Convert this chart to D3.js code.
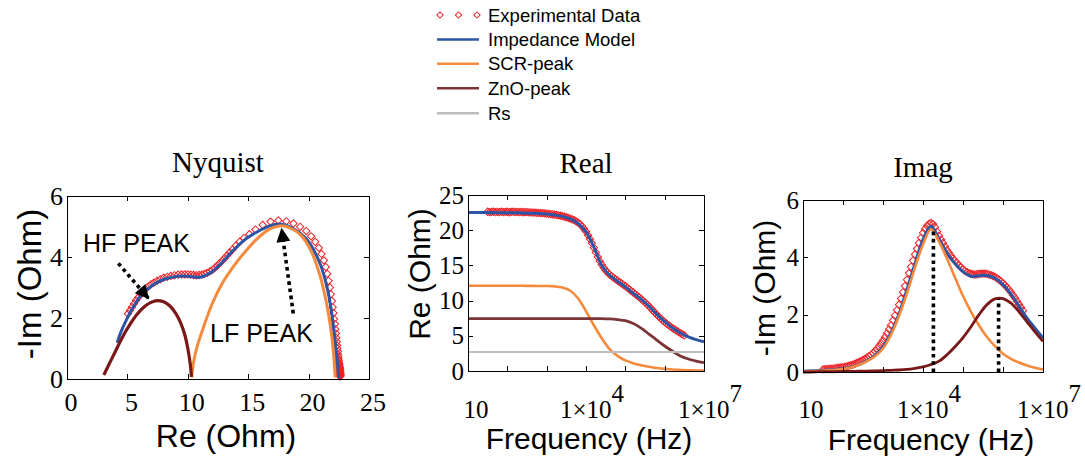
<!DOCTYPE html>
<html><head><meta charset="utf-8">
<script src="https://cdn.jsdelivr.net/npm/d3@7"></script>
<style>body{margin:0;background:#fff}svg{display:block}</style>
</head><body>
<svg id="c" width="1085" height="462"></svg>
<script>
// ---------------- DATA ----------------
const legendLabels = ["Experimental Data", "Impedance Model", "SCR-peak", "ZnO-peak", "Rs"];
const panelTitles = ["Nyquist", "Real", "Imag"];

// frequency grid of the fitted curves (Hz)
const modelFreq = [10, 15.85, 25.12, 39.81, 63.1, 100, 158.5, 251.2, 398.1, 631, 1000, 1585, 2512, 3981, 6310,
  1e4, 15849, 25119, 39811, 63096, 1e5, 158489, 251189, 398107, 630957, 1e6, 1584893, 2511886, 3981072, 6309573, 1e7];
const modelRe = [22.5, 22.5, 22.5, 22.5, 22.49, 22.48, 22.47, 22.45, 22.42, 22.38, 22.3, 22.16, 21.96, 21.6, 20.95,
  19.75, 17.6, 15.0, 13.6, 12.75, 11.95, 11.05, 10.2, 9.2, 8.05, 7.0, 6.1, 5.4, 4.85, 4.45, 4.15];
const modelIm = [0.03, 0.04, 0.05, 0.07, 0.09, 0.12, 0.17, 0.26, 0.39, 0.58, 0.88, 1.36, 2.02, 2.88, 3.78,
  4.62, 5.08, 4.65, 4.15, 3.78, 3.5, 3.34, 3.36, 3.37, 3.27, 3.05, 2.72, 2.3, 1.88, 1.53, 1.19];
const scrRe = [12.1, 12.1, 12.1, 12.1, 12.1, 12.1, 12.1, 12.1, 12.09, 12.08, 12.07, 12.02, 11.85, 11.4, 10.3,
  8.5, 6.5, 4.65, 3.1, 2.15, 1.5, 1.1, 0.82, 0.6, 0.43, 0.31, 0.21, 0.15, 0.1, 0.07, 0.05];
const scrIm = [0.02, 0.03, 0.04, 0.06, 0.08, 0.11, 0.16, 0.25, 0.38, 0.55, 0.82, 1.3, 1.95, 2.75, 3.65,
  4.45, 4.98, 4.55, 3.95, 3.3, 2.65, 2.1, 1.62, 1.22, 0.9, 0.64, 0.46, 0.33, 0.23, 0.15, 0.09];
const znoRe = [7.45, 7.45, 7.45, 7.45, 7.45, 7.45, 7.45, 7.45, 7.45, 7.45, 7.45, 7.45, 7.45, 7.45, 7.45,
  7.45, 7.45, 7.45, 7.4, 7.3, 7.15, 6.75, 6.1, 5.25, 4.4, 3.55, 2.8, 2.12, 1.7, 1.4, 1.18];
const znoIm = [0.0, 0.0, 0.01, 0.01, 0.01, 0.02, 0.02, 0.03, 0.03, 0.04, 0.05, 0.06, 0.07, 0.09, 0.13,
  0.18, 0.26, 0.38, 0.6, 0.88, 1.2, 1.58, 2.0, 2.35, 2.55, 2.56, 2.4, 2.1, 1.75, 1.4, 1.07];
const rsFreq = [10, 1e7];
const rsRe = [2.7, 2.7];

// experimental data
const expFreq = [31.6, 35.5, 39.8, 44.7, 50.1, 56.2, 63.1, 70.8, 79.4, 89.1,
  100, 112, 126, 141, 158, 178, 200, 224, 251, 282,
  316, 355, 398, 447, 501, 562, 631, 708, 794, 891,
  1000, 1122, 1259, 1413, 1585, 1778, 1995, 2239, 2512, 2818,
  3162, 3548, 3981, 4467, 5012, 5623, 6310, 7079, 7943, 8913,
  10000, 11220, 12590, 14130, 15850, 17780, 19950, 22390, 25120, 28180,
  31620, 35480, 39810, 44670, 50120, 56230, 63100, 70790, 79430, 89130,
  1e5, 112200, 125900, 141300, 158500, 177800, 199500, 223900, 251200, 281800,
  316200, 354800, 398100, 446700, 501200, 562300, 631000, 707900, 794300, 891300,
  1e6, 1122000, 1259000, 1413000, 1585000, 1778000, 1995000, 2239000, 2512000, 2818000,
  3162000];
const expRe = [22.62, 22.57, 22.6, 22.64, 22.56, 22.61, 22.58, 22.63, 22.57, 22.6,
  22.62, 22.55, 22.59, 22.63, 22.57, 22.6, 22.56, 22.61, 22.55, 22.58,
  22.56, 22.53, 22.54, 22.5, 22.5, 22.47, 22.46, 22.43, 22.42, 22.39,
  22.36, 22.33, 22.29, 22.26, 22.21, 22.17, 22.11, 22.06, 21.99, 21.93,
  21.84, 21.76, 21.65, 21.55, 21.42, 21.27, 21.07, 20.85, 20.55, 20.2,
  19.8, 19.3, 18.75, 18.15, 17.5, 16.85, 16.2, 15.6, 15.1, 14.65,
  14.3, 13.98, 13.7, 13.47, 13.25, 13.05, 12.85, 12.65, 12.45, 12.25,
  12.05, 11.83, 11.6, 11.38, 11.15, 10.93, 10.7, 10.48, 10.25, 10.0,
  9.75, 9.48, 9.2, 8.9, 8.6, 8.3, 8.0, 7.72, 7.45, 7.2,
  6.95, 6.72, 6.5, 6.3, 6.1, 5.9, 5.72, 5.55, 5.38, 5.21,
  5.05];
const expIm = [0.09, 0.1, 0.1, 0.11, 0.12, 0.12, 0.13, 0.14, 0.15, 0.16,
  0.17, 0.18, 0.2, 0.22, 0.24, 0.26, 0.29, 0.32, 0.35, 0.38,
  0.42, 0.46, 0.5, 0.55, 0.6, 0.66, 0.73, 0.81, 0.9, 1.0,
  1.1, 1.22, 1.35, 1.49, 1.63, 1.8, 1.97, 2.16, 2.35, 2.56,
  2.78, 3.0, 3.22, 3.45, 3.67, 3.89, 4.1, 4.3, 4.5, 4.68,
  4.85, 4.99, 5.1, 5.17, 5.2, 5.16, 5.05, 4.9, 4.75, 4.62,
  4.5, 4.37, 4.25, 4.15, 4.05, 3.96, 3.88, 3.8, 3.72, 3.65,
  3.58, 3.53, 3.48, 3.45, 3.42, 3.41, 3.4, 3.41, 3.42, 3.43,
  3.43, 3.43, 3.42, 3.4, 3.38, 3.35, 3.32, 3.27, 3.22, 3.16,
  3.1, 3.03, 2.95, 2.87, 2.78, 2.68, 2.58, 2.47, 2.36, 2.25,
  2.14];

// component arcs as drawn in the Nyquist plot
const nyqZnoRe = [3.05, 3.5, 4.0, 4.6, 5.2, 5.8, 6.4, 7.0, 7.45, 8.0, 8.5, 9.0, 9.4, 9.75, 10.0, 10.2, 10.3];
const nyqZnoIm = [0.13, 0.5, 0.9, 1.38, 1.78, 2.12, 2.37, 2.52, 2.57, 2.53, 2.4, 2.15, 1.85, 1.45, 1.0, 0.5, 0.07];
const nyqScrRe = [10.32, 10.5, 10.8, 11.3, 12.0, 12.8, 13.8, 14.8, 15.8, 16.8, 17.6, 18.5, 19.4, 20.2, 20.9, 21.4, 21.8, 22.05, 22.2];
const nyqScrIm = [0.05, 0.6, 1.1, 1.7, 2.45, 3.1, 3.7, 4.2, 4.62, 4.92, 5.02, 4.95, 4.7, 4.2, 3.45, 2.65, 1.75, 0.9, 0.05];

// peak markers (Imag plot)
const peakFreq = [18200, 776000];
const peakIm = [5.0, 2.55];

// annotations (Nyquist plot)
const annoLabels = ["HF PEAK", "LF PEAK"];
const annoTextRe = [1.32, 11.84];
const annoTextIm = [4.17, 1.22];
const arrowFromRe = [4.25, 18.73];
const arrowFromIm = [3.79, 2.15];
const arrowToRe = [6.73, 17.77];
const arrowToIm = [2.65, 4.91];

// ticks
const nyqXTicks = [0, 5, 10, 15, 20, 25];
const nyqYTicks = [0, 2, 4, 6];
const realYTicks = [0, 5, 10, 15, 20, 25];
const imagYTicks = [0, 2, 4, 6];
const freqTicks = [10, 100, 1e3, 1e4, 1e5, 1e6, 1e7];
const freqLabelVals = [10, 1e4, 1e7];
const freqLabelExp = ["", "4", "7"];

// ---------------- STYLE ----------------
const C = { red: "#ec2227", blue: "#2d55a5", orange: "#f58a3d", brown: "#7a1818", brownR: "#7c3535", gray: "#bdbdbd" };
const serif = "'Liberation Serif','Times New Roman',serif";
const sans = "'Liberation Sans',Arial,sans-serif";

const svg = d3.select("#c");
svg.append("rect").attr("width", 1085).attr("height", 462).attr("fill", "#fff");
const defs = svg.append("defs");
defs.append("marker").attr("id", "ah").attr("viewBox", "0 0 10 10").attr("refX", 9).attr("refY", 5)
  .attr("markerUnits", "userSpaceOnUse").attr("markerWidth", 15).attr("markerHeight", 14).attr("orient", "auto")
  .append("path").attr("d", "M0,0L10,5L0,10Z").attr("fill", "#000");

const zipXY = (xs, ys) => xs.map((v, i) => [v, ys[i]]);

function frame(x, y, xTicks, yTicks) {
  const [x0, x1] = x.range();
  const [yb, yt] = y.range();
  const g = svg.append("g");
  const st = sel => { sel.selectAll("path,line").attr("stroke", "#000").attr("stroke-width", 1).attr("shape-rendering", "crispEdges");
    sel.selectAll("text").remove(); };
  g.append("g").attr("transform", `translate(0,${yb})`).call(d3.axisBottom(x).tickValues(xTicks).tickSizeInner(-5).tickSizeOuter(0)).call(st);
  g.append("g").attr("transform", `translate(0,${yt})`).call(d3.axisTop(x).tickValues(xTicks).tickSizeInner(-5).tickSizeOuter(0)).call(st);
  g.append("g").attr("transform", `translate(${x0},0)`).call(d3.axisLeft(y).tickValues(yTicks).tickSizeInner(-5).tickSizeOuter(0)).call(st);
  g.append("g").attr("transform", `translate(${x1},0)`).call(d3.axisRight(y).tickValues(yTicks).tickSizeInner(-5).tickSizeOuter(0)).call(st);
  return g;
}
function yLabels(x, y, ticks, size) {
  const x0 = x.range()[0];
  svg.append("g").selectAll("text").data(ticks).join("text")
    .attr("x", x0 - 4).attr("y", d => y(d)).attr("dy", "0.34em").attr("text-anchor", "end")
    .attr("font-family", serif).attr("font-size", size).text(d => d);
}
function diamonds(g, pts, x, y, s) {
  const sym = d3.symbol().type(d3.symbolSquare).size(s);
  g.append("g").selectAll("path").data(pts).join("path")
    .attr("d", sym).attr("transform", d => `translate(${x(d[0])},${y(d[1])}) rotate(45)`)
    .attr("fill", "none").attr("stroke", C.red).attr("stroke-width", 1);
}
function curve(g, pts, x, y, color, w) {
  g.append("path").attr("d", d3.line().x(d => x(d[0])).y(d => y(d[1])).curve(d3.curveCatmullRom.alpha(0.5))(pts))
    .attr("fill", "none").attr("stroke", color).attr("stroke-width", w).attr("stroke-linejoin", "round");
}

// ---------------- LEGEND ----------------
const lg = svg.append("g");
const legRowY = [15, 39.5, 63.7, 88.3, 113.3];
const legColors = [null, C.blue, C.orange, C.brownR, C.gray];
legendLabels.forEach((lab, i) => {
  const yy = legRowY[i];
  if (i === 0) {
    diamonds(lg, [[440, yy], [458.5, yy], [477, yy]], d => d, d => d, 20);
  } else {
    lg.append("line").attr("x1", 437).attr("x2", 479).attr("y1", yy).attr("y2", yy)
      .attr("stroke", legColors[i]).attr("stroke-width", 2.5);
  }
  lg.append("text").attr("x", 488).attr("y", yy + 6.6).attr("font-family", sans).attr("font-size", 18.5).text(lab);
});

// ---------------- NYQUIST ----------------
const nx = d3.scaleLinear().domain([0, 25]).range([67, 369]);
const ny = d3.scaleLinear().domain([0, 6]).range([379, 196]);
{
  const g = svg.append("g");
  diamonds(g, zipXY(expRe, expIm), nx, ny, 27);
  curve(g, zipXY(modelRe, modelIm), nx, ny, C.blue, 3);
  curve(g, zipXY(nyqScrRe, nyqScrIm), nx, ny, C.orange, 3);
  curve(g, zipXY(nyqZnoRe, nyqZnoIm), nx, ny, C.brown, 3.2);
  annoLabels.forEach((lab, i) => {
    g.append("line").attr("x1", nx(arrowFromRe[i])).attr("y1", ny(arrowFromIm[i]))
      .attr("x2", nx(arrowToRe[i])).attr("y2", ny(arrowToIm[i]))
      .attr("stroke", "#000").attr("stroke-width", 3.6).attr("stroke-dasharray", "3.6,3.6")
      .attr("marker-end", "url(#ah)");
    g.append("text").attr("x", nx(annoTextRe[i])).attr("y", ny(annoTextIm[i]))
      .attr("font-family", sans).attr("font-size", 25).text(lab);
  });
  frame(nx, ny, nyqXTicks, nyqYTicks);
  yLabels(nx, ny, nyqYTicks, 26);
  svg.append("g").selectAll("text").data(nyqXTicks).join("text")
    .attr("x", d => nx(d) + 4).attr("y", 411).attr("text-anchor", "middle")
    .attr("font-family", serif).attr("font-size", 26).text(d => d);
  svg.append("text").attr("x", 218).attr("y", 172).attr("text-anchor", "middle")
    .attr("font-family", serif).attr("font-size", 29).text(panelTitles[0]);
  svg.append("text").attr("x", 226).attr("y", 447).attr("text-anchor", "middle")
    .attr("font-family", sans).attr("font-size", 32).text("Re (Ohm)");
  svg.append("text").attr("transform", "translate(41,284) rotate(-90)").attr("text-anchor", "middle")
    .attr("font-family", sans).attr("font-size", 33).text("-Im (Ohm)");
}

function freqLabels(x, baseline) {
  const t = svg.append("g").selectAll("text").data(freqLabelVals).join("text")
    .attr("x", (d, i) => x(d) + (i === 0 ? 8 : 6)).attr("y", baseline).attr("text-anchor", "middle")
    .attr("font-family", serif).attr("font-size", 25);
  t.each(function (d, i) {
    const el = d3.select(this);
    if (freqLabelExp[i] === "") { el.text("10"); return; }
    el.append("tspan").text("1\u00d710");
    el.append("tspan").attr("dy", -16).text(freqLabelExp[i]);
  });
}

// ---------------- REAL ----------------
const rx = d3.scaleLog().domain([10, 1e7]).range([468, 704]);
const ry = d3.scaleLinear().domain([0, 25]).range([371, 195]);
{
  const g = svg.append("g");
  diamonds(g, zipXY(expFreq, expRe), rx, ry, 27);
  curve(g, zipXY(modelFreq, modelRe), rx, ry, C.blue, 3);
  curve(g, zipXY(modelFreq, scrRe), rx, ry, C.orange, 2.6);
  curve(g, zipXY(modelFreq, znoRe), rx, ry, C.brownR, 2.8);
  curve(g, zipXY(rsFreq, rsRe), rx, ry, C.gray, 2);
  frame(rx, ry, freqTicks, realYTicks);
  yLabels(rx, ry, realYTicks, 25);
  freqLabels(rx, 418);
  svg.append("text").attr("x", 586).attr("y", 173).attr("text-anchor", "middle")
    .attr("font-family", serif).attr("font-size", 29).text(panelTitles[1]);
  svg.append("text").attr("x", 589).attr("y", 449).attr("text-anchor", "middle")
    .attr("font-family", sans).attr("font-size", 30).text("Frequency (Hz)");
  svg.append("text").attr("transform", "translate(430,274) rotate(-90)").attr("text-anchor", "middle")
    .attr("font-family", sans).attr("font-size", 30).text("Re (Ohm)");
}

// ---------------- IMAG ----------------
const ix = d3.scaleLog().domain([10, 1e7]).range([803, 1043]);
const iy = d3.scaleLinear().domain([0, 6]).range([372, 200]);
{
  const g = svg.append("g");
  diamonds(g, zipXY(expFreq, expIm), ix, iy, 27);
  curve(g, zipXY(modelFreq, modelIm), ix, iy, C.blue, 3);
  curve(g, zipXY(modelFreq, scrIm), ix, iy, C.orange, 2.6);
  curve(g, zipXY(modelFreq, znoIm), ix, iy, C.brown, 2.8);
  g.append("g").selectAll("line").data(peakFreq).join("line")
    .attr("x1", d => ix(d)).attr("x2", d => ix(d)).attr("y1", iy(0)).attr("y2", (d, i) => iy(peakIm[i]))
    .attr("stroke", "#000").attr("stroke-width", 3.6).attr("stroke-dasharray", "3.6,3.6");
  frame(ix, iy, freqTicks, imagYTicks);
  yLabels(ix, iy, imagYTicks, 25);
  freqLabels(ix, 418);
  svg.append("text").attr("x", 923).attr("y", 177).attr("text-anchor", "middle")
    .attr("font-family", serif).attr("font-size", 29).text(panelTitles[2]);
  svg.append("text").attr("x", 931).attr("y", 450).attr("text-anchor", "middle")
    .attr("font-family", sans).attr("font-size", 30).text("Frequency (Hz)");
  svg.append("text").attr("transform", "translate(775,288) rotate(-90)").attr("text-anchor", "middle")
    .attr("font-family", sans).attr("font-size", 30).text("-Im (Ohm)");
}
</script>
</body></html>
